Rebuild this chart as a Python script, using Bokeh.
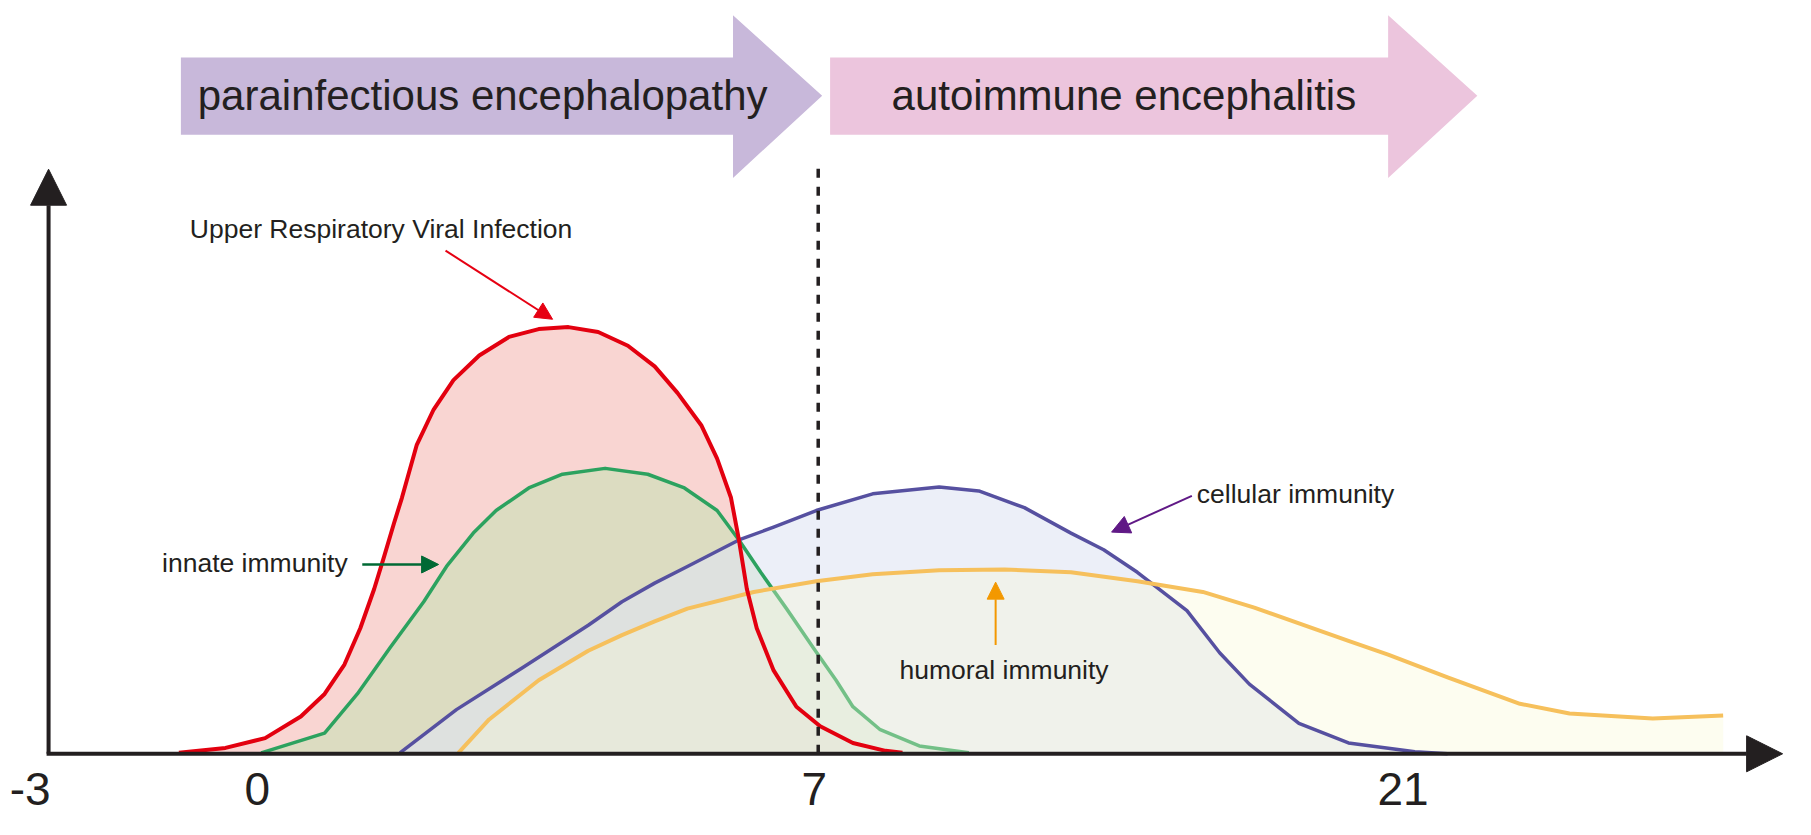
from bokeh.plotting import figure
from bokeh.models import Range1d, Arrow, NormalHead
from bokeh.core.properties import value
from bokeh.embed import file_html
from bokeh.resources import INLINE

# ---------------- data (x: timeline position, y: relative intensity) ----------------
tick_labels = ["-3", "0", "7", "21"]
tick_pos = [30, 259, 821, 1415]
onset_pos = 825           # day 7 boundary

virus_x = [180, 227, 267, 303, 327, 347, 363, 377, 387, 397, 405, 420, 437, 457, 483, 513,
           543, 573, 603, 633, 660, 683, 707, 723, 737, 745, 753, 763, 780, 803, 827, 860, 893, 910]
virus_y = [1, 6, 16, 38, 61, 91, 128, 168, 201, 235, 261, 315, 351, 381, 406, 425,
           433, 435, 430, 416, 395, 368, 335, 301, 261, 218, 168, 128, 85, 48, 28, 11, 3, 1]

innate_x = [263, 327, 360, 393, 427, 450, 477, 500, 533, 567, 610, 653, 690, 723, 745,
            767, 793, 820, 843, 860, 887, 927, 977]
innate_y = [1, 21, 61, 108, 155, 191, 225, 248, 271, 285, 291, 285, 271, 248, 218,
            185, 148, 108, 75, 48, 25, 8, 1]

cellular_x = [403, 460, 527, 593, 627, 660, 693, 745, 780, 823, 880, 947, 987, 1033, 1080,
              1113, 1147, 1165, 1197, 1230, 1260, 1310, 1360, 1427, 1460]
cellular_y = [1, 45, 88, 131, 155, 174, 191, 218, 231, 248, 265, 272, 268, 251, 225,
              208, 185, 171, 146, 103, 71, 31, 11, 2, 0]

humoral_x = [462, 493, 543, 593, 627, 660, 693, 760, 823, 880, 947, 1013, 1080, 1147, 1213,
             1265, 1360, 1400, 1460, 1533, 1583, 1667, 1738]
humoral_y = [1, 35, 75, 105, 121, 135, 148, 165, 176, 183, 187, 188, 185, 176, 165,
             149, 115, 101, 78, 51, 41, 36, 39]

phase_names = ["parainfectious encephalopathy", "autoimmune encephalitis"]
phase_start = [182, 837]
phase_body_end = [739, 1400]
phase_tip = [829, 1490]
phase_colors = ["#c8b8da", "#ecc5dd"]

labels = ["Upper Respiratory Viral Infection", "innate immunity", "cellular immunity", "humoral immunity"]

# ---------------- figure ----------------
W, H = 1795, 819
p = figure(width=W, height=H, x_range=Range1d(0, 1811), y_range=Range1d(-67, 768),
           output_backend="svg", toolbar_location=None,
           x_axis_location=None, y_axis_location=None,
           min_border=0, min_border_left=0, min_border_right=0, min_border_top=0, min_border_bottom=0)
p.grid.visible = False
p.outline_line_color = None
p.background_fill_color = "white"
p.border_fill_color = "white"

FONT = value("Liberation Sans")
INK = "#231f20"

# phase banners
BODY_TOP, BODY_BOT, HEAD_TOP, HEAD_BOT, TIP_Y = 710, 631, 753, 587, 671
xs, ys = [], []
for s, b, t in zip(phase_start, phase_body_end, phase_tip):
    xs.append([s, b, b, t, b, b, s])
    ys.append([BODY_TOP, BODY_TOP, HEAD_TOP, TIP_Y, HEAD_BOT, BODY_BOT, BODY_BOT])
p.patches(xs, ys, fill_color=phase_colors, line_color=None)
p.text(x=[199, 899], y=[671, 671], text=phase_names, text_font=FONT, text_font_size="42px",
       text_color=INK, text_align="left", text_baseline="middle")

# area fills and curves
p.varea(x=virus_x, y1=0, y2=virus_y, fill_color="#f9d5d2", fill_alpha=1.0)
p.varea(x=innate_x, y1=0, y2=innate_y, fill_color="#c8e1b6", fill_alpha=0.6)
p.varea(x=cellular_x, y1=0, y2=cellular_y, fill_color="#e0e5f4", fill_alpha=0.6)
p.line(innate_x, innate_y, line_color="#2ca25f", line_width=3.5, line_join="round")
p.varea(x=humoral_x, y1=0, y2=humoral_y, fill_color="#f9f9d4", fill_alpha=0.35)
p.line(cellular_x, cellular_y, line_color="#5650a0", line_width=3.5, line_join="round")
p.line(humoral_x, humoral_y, line_color="#f6c05c", line_width=4, line_join="round")
p.line(virus_x, virus_y, line_color="#e3000f", line_width=4, line_join="round")

# day-7 dashed boundary
p.segment(x0=[onset_pos], y0=[0], x1=[onset_pos], y1=[598], line_color=INK, line_width=3.5,
          line_dash="9 9")

# axes
p.add_layout(Arrow(end=NormalHead(size=36, fill_color=INK, line_color=INK),
                   x_start=48.5, y_start=0, x_end=48.5, y_end=596, line_color=INK, line_width=4))
p.add_layout(Arrow(end=NormalHead(size=36, fill_color=INK, line_color=INK),
                   x_start=46.5, y_start=0, x_end=1798, y_end=0, line_color=INK, line_width=4))

p.text(x=tick_pos, y=[-36] * 4, text=tick_labels, text_font=FONT, text_font_size="46px",
       text_color=INK, text_align="center", text_baseline="middle")

# annotations
p.text(x=[191, 163, 1207, 907], y=[535, 195, 265, 85], text=labels, text_font=FONT,
       text_font_size="26.5px", text_color=INK, text_align="left", text_baseline="middle")

p.add_layout(Arrow(end=NormalHead(size=17, fill_color="#e60012", line_color="#e60012"),
                   x_start=449, y_start=513, x_end=557, y_end=443, line_color="#e60012", line_width=2))
p.add_layout(Arrow(end=NormalHead(size=17, fill_color="#006934", line_color="#006934"),
                   x_start=365, y_start=193, x_end=442, y_end=193, line_color="#006934", line_width=2.5))
p.add_layout(Arrow(end=NormalHead(size=18, fill_color="#601986", line_color="#601986"),
                   x_start=1202, y_start=263, x_end=1121, y_end=226, line_color="#601986", line_width=2))
p.add_layout(Arrow(end=NormalHead(size=17, fill_color="#f39800", line_color="#f39800"),
                   x_start=1004, y_start=111, x_end=1004, y_end=175, line_color="#f39800", line_width=2))

open("out.html", "w").write(file_html(p, INLINE))
